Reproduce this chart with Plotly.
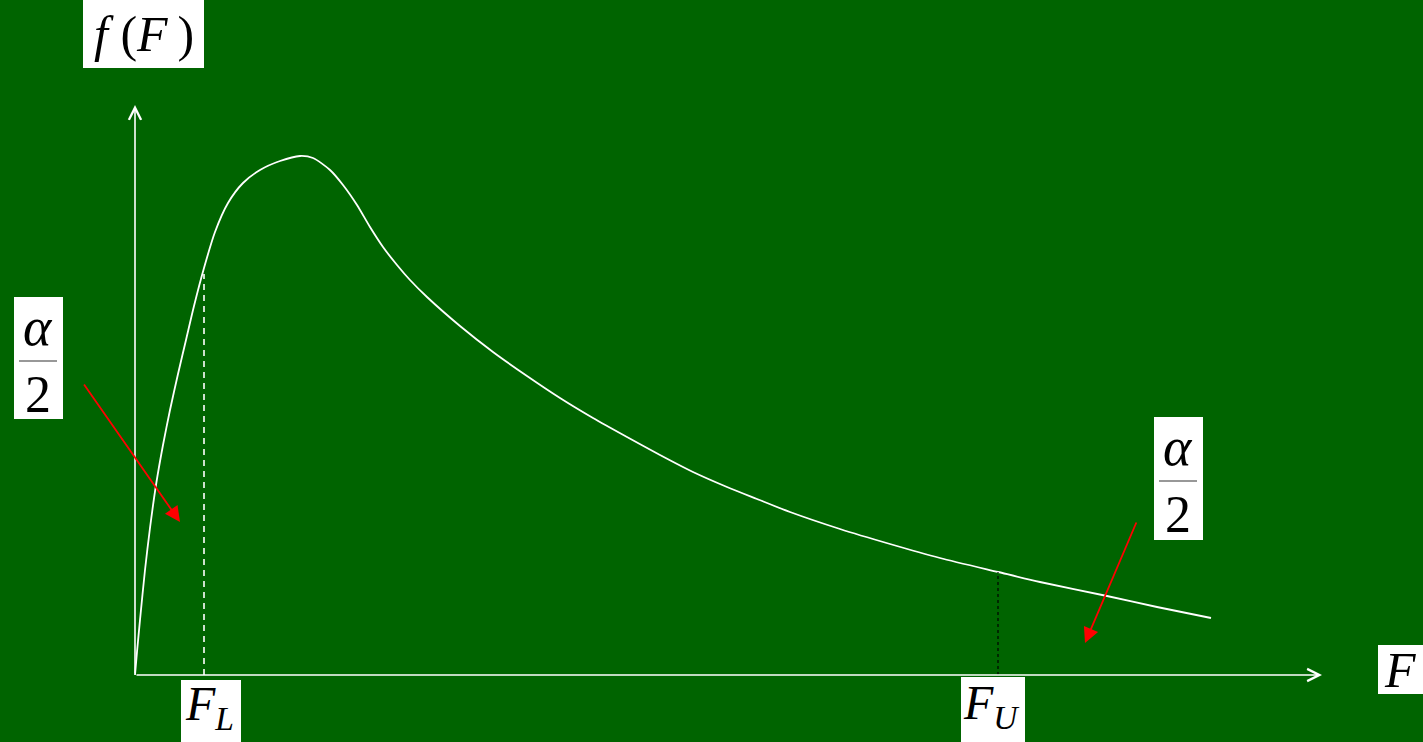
import numpy as np
import plotly.graph_objects as go

# ---- data (F value, density in drawing units) ----
F_vals = [0, 2, 5, 10, 15, 21, 28, 35, 43, 51, 59, 69, 80, 93, 108, 125, 145, 165, 178, 195,
          208, 222, 235, 248, 262, 275, 292, 325, 358, 392, 425, 458, 492, 525, 558, 592,
          622, 655, 705, 755, 805, 863, 905, 972, 1022, 1076]
f_vals = [0, 23, 55, 105, 147, 190, 230, 265, 301, 335, 369, 407, 443, 472, 492, 505, 514, 519, 517, 505,
          490, 470, 448, 428, 410, 395, 378, 349, 323, 299, 277, 257, 238, 220, 203, 188,
          176, 163, 146, 131, 117, 103, 93, 79, 68, 57]
F_L = 69
F_U = 863
x_axis_end = 1187
y_axis_end = 570

BG = "#006400"
SERIF = "'Liberation Serif', 'Times New Roman', serif"

fL_h = float(np.interp(F_L, F_vals, f_vals))
fU_h = float(np.interp(F_U, F_vals, f_vals))

fig = go.Figure()
fig.add_trace(go.Scatter(x=F_vals, y=f_vals, mode="lines",
                         line=dict(color="white", width=1.8, shape="spline", smoothing=0.7),
                         hoverinfo="skip", showlegend=False))
fig.add_trace(go.Scatter(x=[F_L, F_L], y=[0, fL_h - 6], mode="lines",
                         line=dict(color="white", width=1.6, dash="6px,5px"), showlegend=False, hoverinfo="skip"))
fig.add_trace(go.Scatter(x=[F_U, F_U], y=[0, fU_h], mode="lines",
                         line=dict(color="black", width=1.2, dash="dot"), showlegend=False, hoverinfo="skip"))

annotations = []
# axes with arrows
annotations.append(dict(x=x_axis_end, y=0, ax=0, ay=0, xref="x", yref="y", axref="x", ayref="y",
                        showarrow=True, arrowhead=5, arrowsize=1.5, arrowwidth=1.6, arrowcolor="white", text=""))
annotations.append(dict(x=0, y=y_axis_end, ax=0, ay=0, xref="x", yref="y", axref="x", ayref="y",
                        showarrow=True, arrowhead=5, arrowsize=1.5, arrowwidth=1.6, arrowcolor="white", text=""))
# red arrows
annotations.append(dict(x=45, y=153, ax=-52, ay=292, xref="x", yref="y", axref="x", ayref="y",
                        showarrow=True, arrowhead=2, arrowsize=1.7, arrowwidth=1.8, arrowcolor="#ff0000", text=""))
annotations.append(dict(x=950, y=32, ax=1002, ay=154, xref="x", yref="y", axref="x", ayref="y",
                        showarrow=True, arrowhead=2, arrowsize=1.7, arrowwidth=1.8, arrowcolor="#ff0000", text=""))

shapes = []
def box(x0, x1, y0, y1):
    shapes.append(dict(type="rect", xref="x", yref="y", x0=x0, x1=x1, y0=y0, y1=y1,
                       fillcolor="white", line=dict(width=0), layer="above"))

def label(x, y, text, size):
    annotations.append(dict(x=x, y=y, xref="x", yref="y", text=text, showarrow=False,
                            font=dict(family=SERIF, size=size, color="black"),
                            xanchor="center", yanchor="middle"))

# f(F)
box(-52, 69, 607, 675)
label(9, 641, "<i>f</i> (<i>F</i>\u2009)", 50)
# left alpha/2
box(-121, -72, 256, 378)
label(-97, 348, "<i>α</i>", 54)
label(-97, 281, "2", 52)
shapes.append(dict(type="line", xref="x", yref="y", x0=-116, x1=-78, y0=314, y1=314,
                   line=dict(color="#333333", width=1.2), layer="above"))
# right alpha/2
box(1019, 1068, 135, 258)
label(1043, 228, "<i>α</i>", 54)
label(1043, 161, "2", 52)
shapes.append(dict(type="line", xref="x", yref="y", x0=1024, x1=1062, y0=194, y1=194,
                   line=dict(color="#333333", width=1.2), layer="above"))
# F_L, F_U, F
box(46, 106, -67, -5)
label(74, -32, "<i>F<sub>L</sub></i>", 48)
box(826, 890, -67, -2)
label(856, -31, "<i>F<sub>U</sub></i>", 48)
box(1243, 1288, -19, 30)
label(1265, 5, "<i>F</i>", 50)

fig.update_layout(
    width=1423, height=742, margin=dict(l=0, r=0, t=0, b=0),
    paper_bgcolor=BG, plot_bgcolor=BG,
    xaxis=dict(range=[-135, 1288], visible=False, fixedrange=True),
    yaxis=dict(range=[-67, 675], visible=False, fixedrange=True),
    shapes=shapes, annotations=annotations, showlegend=False,
)
fig.write_html("out.html", config={"displayModeBar": False},
               post_script="document.body.style.margin='0';document.body.style.overflow='hidden';document.body.style.background='" + BG + "';")
